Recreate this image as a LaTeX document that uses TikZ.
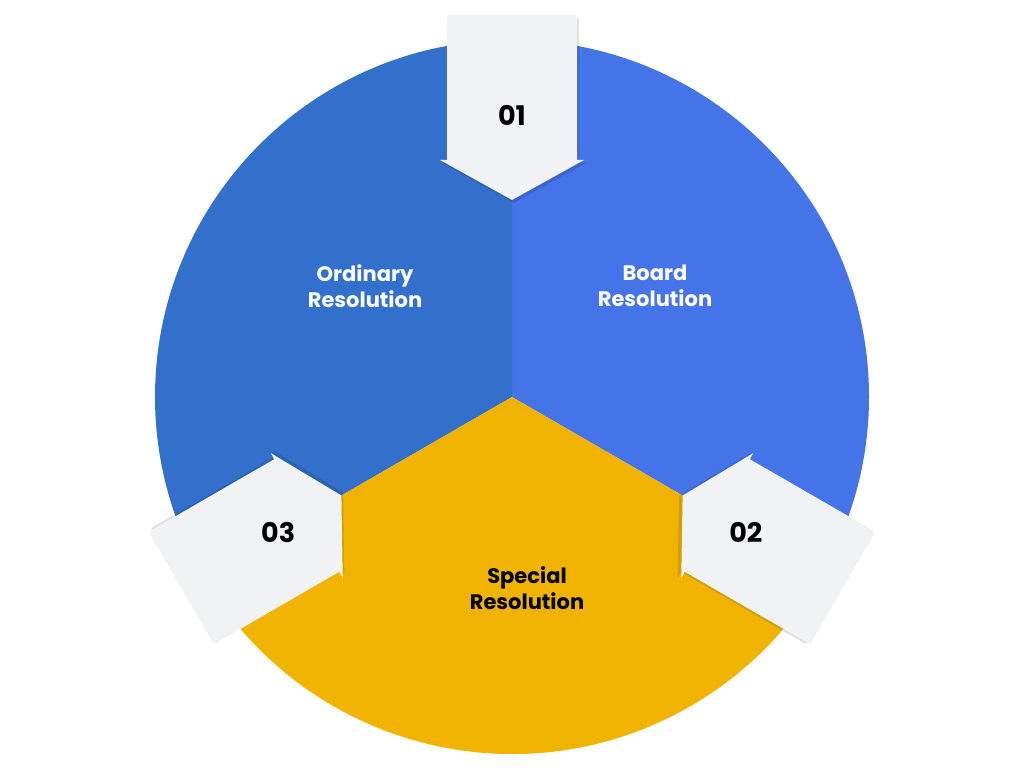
\documentclass[tikz,border=0pt]{standalone}
\usepackage{fontspec}
\setmainfont{Poppins}[BoldFont={* Bold}]
\usetikzlibrary{calc}
\begin{document}
\begin{tikzpicture}[x=1pt,y=1pt]
\definecolor{cOrd}{HTML}{3370CC}
\definecolor{cBrd}{HTML}{4474E8}
\definecolor{cSpc}{HTML}{F0B400}
\definecolor{cArr}{HTML}{F1F2F4}
\tikzset{
  arrowshape/.style={fill=cArr,rounded corners=3pt},
  shadowshape/.style={fill=black,opacity=0.12},
  lbl/.style={font=\bfseries\fontsize{21}{26}\selectfont,align=center,text=white},
  num/.style={font=\bfseries\fontsize{27}{30}\selectfont,text=black}
}
\useasboundingbox (0,0) rectangle (1024,768);
\coordinate (c) at (512,371);
\fill[cBrd] (c) -- ++(90:357) arc[start angle=90,end angle=-30,radius=357] -- cycle;
\fill[cOrd] (c) -- ++(90:357) arc[start angle=90,end angle=210,radius=357] -- cycle;
\fill[cSpc] (c) -- ++(210:357) arc[start angle=210,end angle=330,radius=357] -- cycle;
\foreach \a/\n in {90/01,-30/02,210/03}{
  \begin{scope}[shift={(c)},rotate=\a-90]
    \fill[shadowshape,xshift=2pt,yshift=-3pt] (0,197) -- (72,237) -- (65,237) [rounded corners=3pt] -- (65,382) -- (-65,382) [sharp corners]-- (-65,237) -- (-72,237) -- cycle;
    \fill[cArr] (0,197) -- (72,237) -- (65,237) [rounded corners=3pt] -- (65,382) -- (-65,382) [sharp corners]-- (-65,237) -- (-72,237) -- cycle;
  \end{scope}
}
\node[num] (n1) at ($(c)+(90:282)$) {01};
\node[num] (n2) at ($(c)+(-30:270)$) {02};
\node[num] (n3) at ($(c)+(210:270)$) {03};
\node[lbl] (ord) at (365,482) {Ordinary\\Resolution};
\node[lbl] (brd) at (655,482) {Board\\Resolution};
\node[lbl,text=black] (spc) at (527,180) {Special\\Resolution};
\end{tikzpicture}
\end{document}
